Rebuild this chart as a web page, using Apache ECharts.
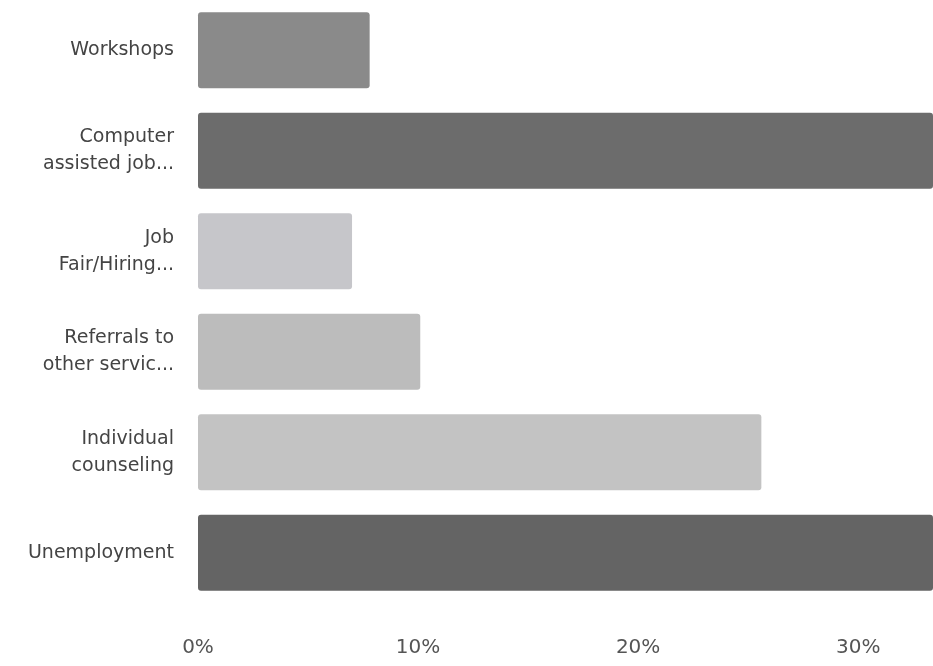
<!DOCTYPE html>
<html>
<head>
<meta charset="utf-8">
<script src="https://cdn.jsdelivr.net/npm/echarts@6/dist/echarts.min.js"></script>
<style>html,body{margin:0;padding:0;background:#fff}#c{width:933px;height:666px}</style>
</head>
<body>
<div id="c"></div>
<script>
const categories = ["Workshops", "Computer\nassisted job...", "Job\nFair/Hiring...", "Referrals to\nother servic...", "Individual\ncounseling", "Unemployment"];
const values = [7.8, 36, 7.0, 10.1, 25.6, 38];
const barColors = ["#8a8a8a", "#6c6c6c", "#c6c6ca", "#bcbcbc", "#c3c3c3", "#646464"];
const tickValues = [0, 10, 20, 30];

const chart = echarts.init(document.getElementById('c'));
chart.setOption({
  backgroundColor: '#ffffff',
  animation: false,
  grid: { left: 198, right: 0, top: -3, bottom: 63, containLabel: false },
  xAxis: {
    type: 'value', min: 0, max: 33.4, interval: 10,
    axisLine: { show: false }, axisTick: { show: false },
    splitLine: { show: false },
    axisLabel: {
      showMaxLabel: false,
      margin: 35, color: '#555', fontSize: 20, fontFamily: '"DejaVu Sans", sans-serif',
      formatter: v => tickValues.includes(v) ? v + '%' : ''
    }
  },
  yAxis: {
    type: 'category', inverse: true, data: categories,
    axisLine: { show: false }, axisTick: { show: false },
    axisLabel: { margin: 24, color: '#444', fontSize: 19, lineHeight: 27, align: 'right', fontFamily: '"DejaVu Sans", sans-serif' }
  },
  series: [{
    type: 'bar',
    barWidth: 76,
    clip: true,
    data: values.map((v, i) => ({ value: v, itemStyle: { color: barColors[i], borderRadius: 3 } }))
  }]
});
</script>
</body>
</html>
